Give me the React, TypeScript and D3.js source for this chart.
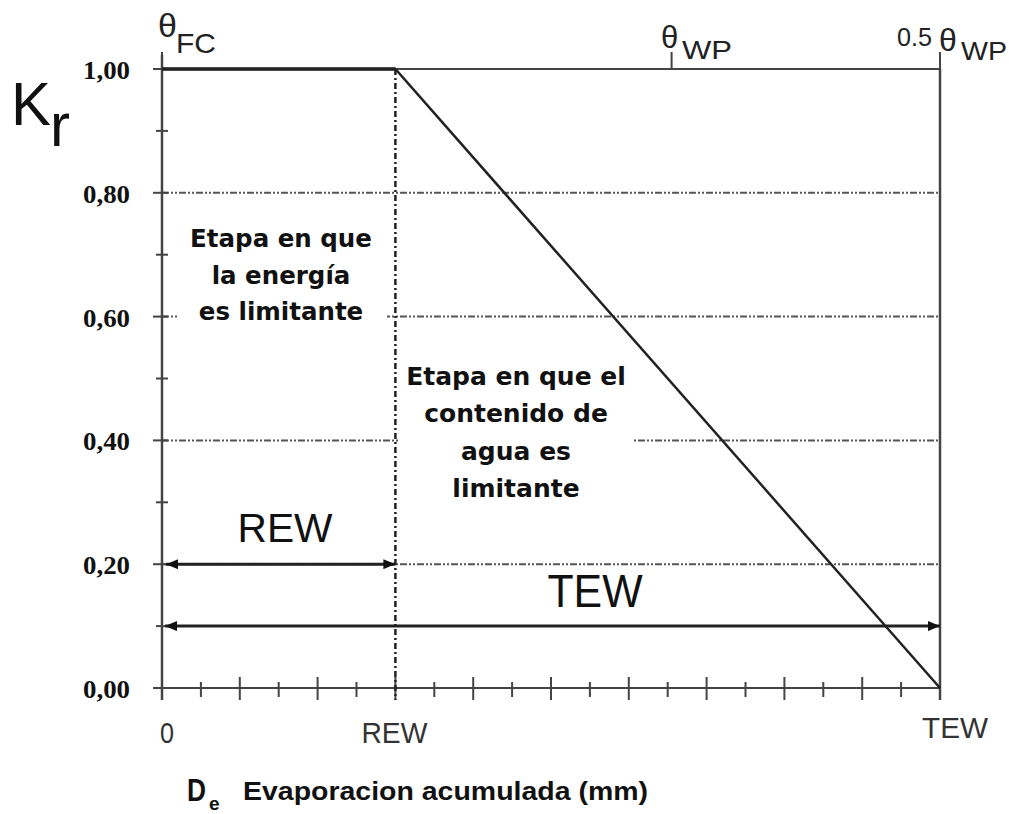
import React from 'react';
import * as d3 from 'd3';

// ---- data ----
const X_TICKS = [0, 1, 2, 3, 4, 5, 6, 7, 8, 9, 10, 11, 12, 13, 14, 15, 16, 17, 18, 19, 20];
const Y_TICKS = [0, 0.1, 0.2, 0.3, 0.4, 0.5, 0.6, 0.7, 0.8, 0.9, 1.0];
const Y_LABEL_VALUES = [0, 0.2, 0.4, 0.6, 0.8, 1.0];
const Y_LABELS = ['0,00', '0,20', '0,40', '0,60', '0,80', '1,00'];
const GRID_VALUES = [0.2, 0.4, 0.6, 0.8];
const KR_X = [0, 6, 20];
const KR_Y = [1, 1, 0];
const REW = 6;
const TEW = 20;
const X_LABEL_VALUES = [0, 6, 20];
const X_LABELS = ['0', 'REW', 'TEW'];
const TOP_TICK_VALUES = [0, 13.1, 20];
const REW_ARROW_Y = 0.2;
const TEW_ARROW_Y = 0.1;
const LEFT_TEXT = ['Etapa en que', 'la energía', 'es limitante'];
const RIGHT_TEXT = ['Etapa en que el', 'contenido de', 'agua es', 'limitante'];

const W = 1009;
const H = 814;

export default function App() {
  const x = d3.scaleLinear().domain([0, 20]).range([162, 940]);
  const y = d3.scaleLinear().domain([0, 1]).range([688, 69]);
  const line = d3
    .line<number>()
    .x((_, i) => x(KR_X[i]))
    .y((d) => y(d));
  const krPath = line(KR_Y) || '';
  const sans = 'Arial, "Liberation Sans", sans-serif';
  const dv = '"DejaVu Sans", sans-serif';
  const serif = '"Times New Roman", "Liberation Serif", serif';
  const axisColor = '#444';

  return (
    <svg
      width={W}
      height={H}
      style={{ position: 'absolute', left: 0, top: 0, background: '#fff' }}
    >
      <defs>
        <marker
          id="ah"
          viewBox="0 0 12 10"
          refX={12}
          refY={5}
          markerWidth={12}
          markerHeight={10}
          markerUnits="userSpaceOnUse"
          orient="auto-start-reverse"
        >
          <path d="M0,0 L12,5 L0,10 Z" fill="#111" />
        </marker>
      </defs>
      <rect x={0} y={0} width={W} height={H} fill="#fff" />

      {/* grid lines */}
      {GRID_VALUES.map((v) => (
        <line
          key={'g' + v}
          x1={x(0)}
          x2={x(TEW)}
          y1={y(v)}
          y2={y(v)}
          stroke="#555"
          strokeWidth={2}
          strokeDasharray="7,2,2,2,2,2"
        />
      ))}

      {/* text backgrounds */}
      <rect x={178} y={224} width={209} height={110} fill="#fff" />
      <rect x={400} y={352} width={232} height={152} fill="#fff" />

      {/* left axis */}
      <line x1={x(0)} x2={x(0)} y1={y(1) - 14} y2={y(0) + 12} stroke={axisColor} strokeWidth={2.5} />
      {/* right border */}
      <line x1={x(TEW)} x2={x(TEW)} y1={y(1)} y2={y(0) + 12} stroke={axisColor} strokeWidth={2.5} />
      {/* top border */}
      <line x1={x(0)} x2={x(TEW)} y1={y(1)} y2={y(1)} stroke={axisColor} strokeWidth={2} />
      {/* top ticks */}
      {TOP_TICK_VALUES.map((v) => (
        <line key={'tt' + v} x1={x(v)} x2={x(v)} y1={y(1) - 17} y2={y(1)} stroke={axisColor} strokeWidth={2} />
      ))}
      {/* bottom axis */}
      <line x1={x(0) - 8} x2={x(TEW)} y1={y(0)} y2={y(0)} stroke={axisColor} strokeWidth={2} />
      {X_TICKS.map((v, i) => (
        <line
          key={'xt' + v}
          x1={x(v)}
          x2={x(v)}
          y1={i % 2 === 0 ? y(0) - 11 : y(0) - 6}
          y2={i % 2 === 0 ? y(0) + 12 : y(0) + 9}
          stroke={axisColor}
          strokeWidth={2}
        />
      ))}
      {/* y ticks */}
      {Y_TICKS.map((v, i) => (
        <line
          key={'yt' + v}
          x1={x(0) - (i % 2 === 0 ? 9 : 6)}
          x2={x(0) + 6}
          y1={y(v)}
          y2={y(v)}
          stroke={axisColor}
          strokeWidth={2}
        />
      ))}
      {/* y labels */}
      {Y_LABEL_VALUES.map((v, i) => (
        <text
          key={'yl' + v}
          x={130}
          y={y(v) + 10}
          textAnchor="end"
          fontFamily={serif}
          fontWeight="bold"
          fontSize={25}
          fill="#111"
          textLength={47}
          lengthAdjust="spacingAndGlyphs"
        >
          {Y_LABELS[i]}
        </text>
      ))}

      {/* REW vertical dash-dot */}
      <line
        x1={x(REW)}
        x2={x(REW)}
        y1={y(1)}
        y2={y(0) + 12}
        stroke="#222"
        strokeWidth={2.5}
        strokeDasharray="6,3,2,3"
      />

      {/* Kr curve */}
      <path d={krPath} fill="none" stroke="#222" strokeWidth={2.5} />
      <line x1={x(0)} x2={x(REW)} y1={y(1)} y2={y(1)} stroke="#222" strokeWidth={3.5} />

      {/* arrows */}
      <line
        x1={x(0) + 4}
        x2={x(REW)}
        y1={y(REW_ARROW_Y)}
        y2={y(REW_ARROW_Y)}
        stroke="#222"
        strokeWidth={3}
        markerStart="url(#ah)"
        markerEnd="url(#ah)"
      />
      <line
        x1={x(0) + 3}
        x2={x(TEW)}
        y1={y(TEW_ARROW_Y)}
        y2={y(TEW_ARROW_Y)}
        stroke="#222"
        strokeWidth={3}
        markerStart="url(#ah)"
        markerEnd="url(#ah)"
      />

      {/* region texts */}
      {LEFT_TEXT.map((t, i) => (
        <text
          key={'lt' + i}
          x={281}
          y={247 + i * 36.5}
          textAnchor="middle"
          fontFamily={dv}
          fontWeight="bold"
          fontSize={24.5}
          fill="#111"
        >
          {t}
        </text>
      ))}
      {RIGHT_TEXT.map((t, i) => (
        <text
          key={'rt' + i}
          x={516}
          y={385 + i * 37.3}
          textAnchor="middle"
          fontFamily={dv}
          fontWeight="bold"
          fontSize={25}
          fill="#111"
        >
          {t}
        </text>
      ))}

      {/* REW / TEW big labels */}
      <text x={285} y={542} textAnchor="middle" fontFamily={sans} fontSize={41} fill="#111" textLength={95} lengthAdjust="spacingAndGlyphs">
        REW
      </text>
      <text x={595} y={607} textAnchor="middle" fontFamily={sans} fontSize={46} fill="#111" textLength={95} lengthAdjust="spacingAndGlyphs">
        TEW
      </text>

      {/* x labels */}
      {X_LABEL_VALUES.map((v, i) => (
        <text
          key={'xl' + v}
          x={i === 0 ? x(v) + 5 : i === 2 ? x(v) + 15 : x(v) - 1}
          y={i === 2 ? 738 : 743}
          textAnchor="middle"
          fontFamily={sans}
          fontSize={30}
          fill="#333"
          textLength={i === 0 ? 14 : 66}
          lengthAdjust="spacingAndGlyphs"
        >
          {X_LABELS[i]}
        </text>
      ))}

      {/* top labels */}
      <text x={158} y={37} fontFamily={sans} fontSize={34} fill="#222">θ</text>
      <text x={176} y={53} fontFamily={sans} fontSize={28} fill="#222" textLength={40} lengthAdjust="spacingAndGlyphs">FC</text>
      <text x={661} y={48} fontFamily={sans} fontSize={31} fill="#222">θ</text>
      <text x={682} y={59} fontFamily={sans} fontSize={26} fill="#222" textLength={50} lengthAdjust="spacingAndGlyphs">WP</text>
      <text x={897} y={46} fontFamily={sans} fontSize={26} fill="#222" textLength={35} lengthAdjust="spacingAndGlyphs">0.5</text>
      <text x={939} y={51} fontFamily={sans} fontSize={32} fill="#222">θ</text>
      <text x={961} y={60} fontFamily={sans} fontSize={26} fill="#222" textLength={46} lengthAdjust="spacingAndGlyphs">WP</text>

      {/* Kr */}
      <text x={11} y={125} fontFamily={sans} fontSize={62} fill="#111" textLength={40} lengthAdjust="spacingAndGlyphs">K</text>
      <text x={50} y={146} fontFamily={sans} fontSize={62} fill="#111" textLength={20} lengthAdjust="spacingAndGlyphs">r</text>

      {/* bottom title */}
      <text x={187} y={801} fontFamily={sans} fontWeight="bold" fontSize={32} fill="#111" textLength={19} lengthAdjust="spacingAndGlyphs">D</text>
      <text x={209} y={810} fontFamily={sans} fontWeight="bold" fontSize={19} fill="#111">e</text>
      <text x={243} y={800} fontFamily={sans} fontWeight="bold" fontSize={25} fill="#111" textLength={405} lengthAdjust="spacingAndGlyphs">
        Evaporacion acumulada (mm)
      </text>
    </svg>
  );
}
